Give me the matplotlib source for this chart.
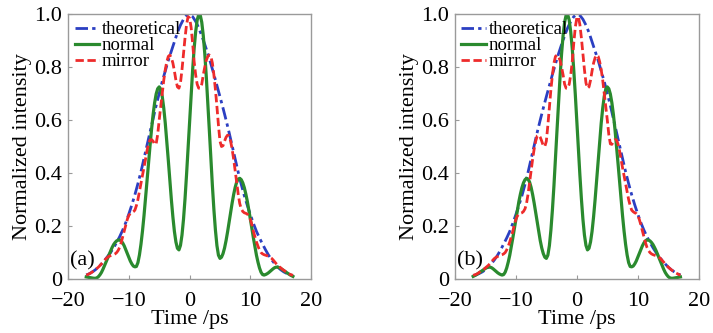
import numpy as np
import matplotlib
matplotlib.use("Agg")
from matplotlib import pyplot as plt

plt.rcParams['font.family'] = ['Liberation Serif', 'DejaVu Serif']

# sampling grids of the traces (ps)
time_coarse = np.arange(-17, 17.5, 0.5)
time_fine = np.arange(-17, 17.25, 0.25)

# panel (a), values
theoretical_a = [0.015, 0.02, 0.027, 0.035, 0.045, 0.057, 0.07, 0.085, 0.1, 0.118,
                 0.138, 0.16, 0.185, 0.213, 0.245, 0.28, 0.318, 0.36, 0.405, 0.455,
                 0.505, 0.555, 0.605, 0.655, 0.7, 0.745, 0.785, 0.825, 0.86, 0.895,
                 0.93, 0.958, 0.98, 0.995, 0.998, 0.99, 0.972, 0.948, 0.918, 0.885,
                 0.85, 0.812, 0.772, 0.73, 0.688, 0.645, 0.6, 0.553, 0.503, 0.453,
                 0.403, 0.357, 0.315, 0.278, 0.243, 0.21, 0.18, 0.155, 0.132, 0.11,
                 0.09, 0.073, 0.058, 0.045, 0.035, 0.027, 0.021, 0.016, 0.012]

normal_a = [0.008, 0.007, 0.006, 0.005, 0.004, 0.003, 0.003, 0.0045,
            0.009, 0.016, 0.025, 0.037, 0.05, 0.064, 0.078, 0.093,
            0.107, 0.119, 0.13, 0.138, 0.144, 0.147, 0.148, 0.144,
            0.136, 0.125, 0.111, 0.0965, 0.082, 0.068, 0.057, 0.049,
            0.046, 0.0475, 0.062, 0.091, 0.131, 0.181, 0.239, 0.303,
            0.371, 0.439, 0.505, 0.567, 0.621, 0.665, 0.698, 0.718,
            0.725, 0.716, 0.689, 0.645, 0.588, 0.52, 0.448, 0.372,
            0.30, 0.235, 0.18, 0.14, 0.116, 0.11, 0.127, 0.166,
            0.226, 0.303, 0.394, 0.493, 0.596, 0.697, 0.788, 0.87,
            0.933, 0.977, 0.998, 0.996, 0.969, 0.919, 0.85, 0.763,
            0.665, 0.561, 0.454, 0.353, 0.262, 0.185, 0.126, 0.09,
            0.078, 0.0825, 0.096, 0.117, 0.145, 0.178, 0.214, 0.251,
            0.287, 0.319, 0.346, 0.366, 0.377, 0.38, 0.375, 0.363,
            0.345, 0.321, 0.293, 0.26, 0.226, 0.19, 0.155, 0.122,
            0.09, 0.064, 0.042, 0.026, 0.017, 0.015, 0.017, 0.02,
            0.024, 0.029, 0.034, 0.039, 0.043, 0.045, 0.045, 0.043,
            0.04, 0.036, 0.032, 0.028, 0.024, 0.02, 0.016, 0.013,
            0.01]

mirror_a = [0.015, 0.017, 0.02, 0.023, 0.027, 0.031, 0.035, 0.04,
            0.045, 0.051, 0.057, 0.064, 0.07, 0.077, 0.082, 0.086,
            0.088, 0.09, 0.092, 0.095, 0.1, 0.108, 0.12, 0.138,
            0.16, 0.183, 0.205, 0.225, 0.24, 0.247, 0.25, 0.254,
            0.26, 0.277, 0.3, 0.33, 0.36, 0.39, 0.42, 0.452,
            0.485, 0.51, 0.525, 0.526, 0.52, 0.508, 0.51, 0.545,
            0.6, 0.65, 0.7, 0.75, 0.79, 0.82, 0.84, 0.845,
            0.835, 0.815, 0.785, 0.75, 0.725, 0.72, 0.74, 0.79,
            0.85, 0.91, 0.96, 0.99, 0.985, 0.95, 0.89, 0.82,
            0.77, 0.735, 0.72, 0.72, 0.735, 0.77, 0.8, 0.825,
            0.84, 0.845, 0.84, 0.815, 0.77, 0.715, 0.65, 0.58,
            0.52, 0.5, 0.503, 0.52, 0.535, 0.543, 0.54, 0.52,
            0.49, 0.452, 0.41, 0.365, 0.32, 0.285, 0.265, 0.255,
            0.25, 0.248, 0.245, 0.238, 0.225, 0.205, 0.18, 0.16,
            0.14, 0.124, 0.11, 0.1, 0.095, 0.092, 0.09, 0.088,
            0.085, 0.082, 0.078, 0.072, 0.065, 0.058, 0.052, 0.047,
            0.042, 0.037, 0.033, 0.029, 0.025, 0.021, 0.018, 0.016,
            0.014]

# panel (b) is the time-mirrored trace of (a)
theoretical_b = theoretical_a[::-1]
normal_b = normal_a[::-1]
mirror_b = mirror_a[::-1]

xticks = [-20, -10, 0, 10, 20]
yticks = [0, 0.2, 0.4, 0.6, 0.8, 1.0]
yticklabels = ['0', '0.2', '0.4', '0.6', '0.8', '1.0']

BLUE = '#2b3fc2'
GREEN = '#2a8a2e'
RED = '#ee2b2b'
FRAME = '#9a9a9a'

fig = plt.figure(figsize=(7.13, 3.33), dpi=100)
ax_a = fig.add_axes([0.0954, 0.162, 0.341, 0.796])
ax_b = fig.add_axes([0.638, 0.162, 0.342, 0.796])

panels = [(ax_a, theoretical_a, normal_a, mirror_a, '(a)'),
          (ax_b, theoretical_b, normal_b, mirror_b, '(b)')]

for ax, th, no, mi, tag in panels:
    ax.plot(time_coarse, th, color=BLUE, lw=2.0, dashes=(4.5, 1.5, 1.2, 1.5), label='theoretical')
    ax.plot(time_fine, no, color=GREEN, lw=2.3, label='normal')
    ax.plot(time_fine, mi, color=RED, lw=2.0, dashes=(3.0, 1.3), label='mirror')

    ax.set_xlim(-20, 20)
    ax.set_ylim(0, 1.0)
    ax.set_xticks(xticks)
    ax.set_yticks(yticks)
    ax.set_yticklabels(yticklabels)
    ax.tick_params(direction='in', length=3, color=FRAME, labelsize=16)
    ax.tick_params(axis='x', pad=9.5)
    ax.tick_params(axis='y', pad=4)
    for s in ax.spines.values():
        s.set_color(FRAME)
        s.set_linewidth(1.0)

    ax.set_xlabel('Time /ps', fontsize=16, labelpad=-1)
    ax.set_ylabel('Normalized intensity', fontsize=16, labelpad=2)
    ax.text(-19.7, 0.05, tag, fontsize=16, va='baseline', ha='left')

    ax.legend(loc='upper left', fontsize=13.5, frameon=False,
              handlelength=1.3, handletextpad=0.15, labelspacing=-0.05,
              borderaxespad=0.25, borderpad=0.1, handleheight=0.5)

fig.savefig('out.png', dpi=100)
